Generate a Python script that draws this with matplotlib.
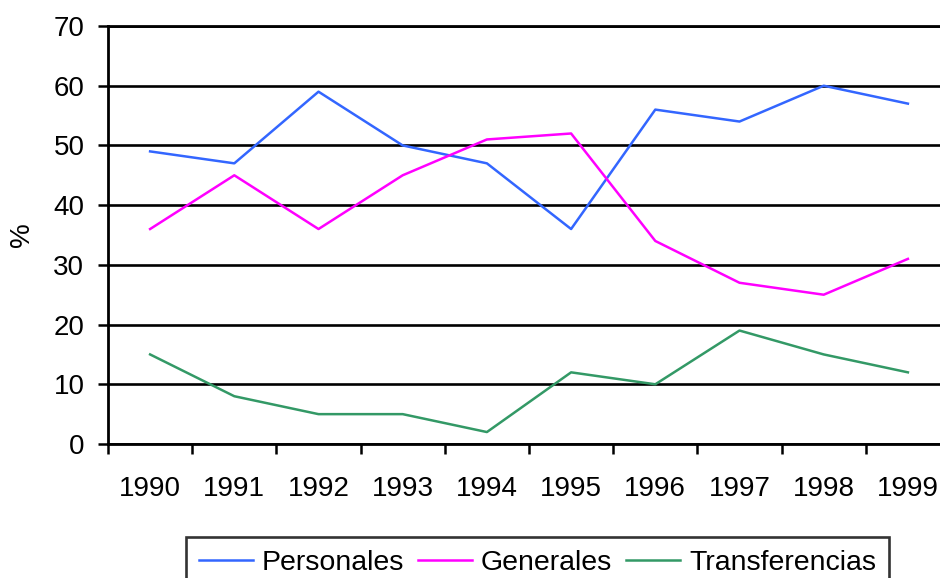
import numpy as np
import matplotlib
matplotlib.use("Agg")
import matplotlib.pyplot as plt

plt.rcParams["font.family"] = ["Liberation Sans", "DejaVu Sans"]

years = ["1990", "1991", "1992", "1993", "1994", "1995", "1996", "1997", "1998", "1999"]
personales = [49, 47, 59, 50, 47, 36, 56, 54, 60, 57]
generales = [36, 45, 36, 45, 51, 52, 34, 27, 25, 31]
transferencias = [15, 8, 5, 5, 2, 12, 10, 19, 15, 12]

fig = plt.figure(figsize=(9.4, 5.78), dpi=100)
# axes runs a little past the right edge, as in the original
ax = fig.add_axes([108 / 940, 1 - 444 / 578, 842 / 940, 418 / 578])

x = np.arange(len(years))
ax.plot(x, personales, color="#3366FF", lw=1.8, label="Personales")
ax.plot(x, generales, color="#FF00FF", lw=1.8, label="Generales")
ax.plot(x, transferencias, color="#339966", lw=1.8, label="Transferencias")

ax.set_xlim(-0.5, len(years) - 0.5)
ax.set_ylim(0, 70)
ax.set_yticks(np.arange(0, 71, 10))
ax.yaxis.grid(True, color="black", lw=1.9)
ax.set_axisbelow(True)

# category ticks between years, labels centred on each year
ax.set_xticks(np.arange(-0.5, len(years), 1.0))
ax.set_xticklabels([])
ax.set_xticks(x, minor=True)
ax.set_xticklabels(years, minor=True)
ax.tick_params(axis="x", which="major", length=7, width=1.8, direction="out")
ax.tick_params(axis="x", which="minor", length=0, pad=23, labelsize=20)
ax.tick_params(axis="y", length=7, width=1.8, pad=10, labelsize=20)

ax.spines["right"].set_visible(False)
for side in ["left", "bottom", "top"]:
    ax.spines[side].set_linewidth(2.0)

ax.set_ylabel("%", fontsize=20, labelpad=13)

leg = fig.legend(loc="upper center", bbox_to_anchor=(0.5718, 1 - 537 / 578), ncol=3,
                 fontsize=20.5, frameon=True, fancybox=False, edgecolor="black",
                 handlelength=1.9, handletextpad=0.3, columnspacing=0.5,
                 borderpad=0.45, borderaxespad=0)
leg.get_frame().set_linewidth(1.9)

fig.savefig("out.png", dpi=100)
